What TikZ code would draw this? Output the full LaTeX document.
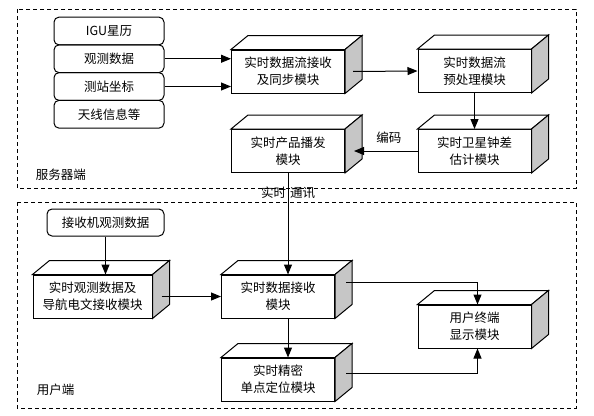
\documentclass[tikz,border=0pt]{standalone}
\usepackage{fontspec}
\setmainfont{Noto Sans CJK SC}
\usetikzlibrary{arrows.meta}
\begin{document}
\begin{tikzpicture}
    [
        source/.style={rectangle, rounded corners=5pt, draw, minimum width=110pt, minimum height=27.75pt, inner sep=0pt},
        module/.style={rectangle, draw, fill=white, minimum width=113pt, minimum height=43pt, align=center, inner sep=0pt},
        region/.style={draw, dash pattern=on 4pt off 3pt},
        >={Triangle[length=10pt,width=8pt]},
        x=1pt, y=-1pt,
        line width=1pt,
        font=\fontsize{12.5}{17}\selectfont,
    ]
    \useasboundingbox (0,0) rectangle (594,415);
    % server side
    \draw [region] (17,9) rectangle (576,188);
    \node (igu) at (109,31) [source] {IGU星历};
    \node (obs) at (109,58.75) [source] {观测数据};
    \node (sta) at (109,86.5) [source] {测站坐标};
    \node (ant) at (109,114.25) [source] {天线信息等};
    \node (m1) at (288,71.5) [module] {实时数据流接收\\及同步模块};
    \node (m2) at (474.5,71) [module] {实时数据流\\预处理模块};
    \node (m3) at (474.5,151) [module] {实时卫星钟差\\估计模块};
    \node (m4) at (288,151) [module] {实时产品播发\\模块};
    \node (server) at (32,175) [anchor=west] {服务器端};
    % user side
    \draw [region] (17,202) rectangle (576,408);
    \node (rcv) at (105.5,222.5) [source, minimum width=117pt, minimum height=27pt] {接收机观测数据};
    \node (m5) at (92.5,296.5) [module, minimum width=119pt] {实时观测数据及\\导航电文接收模块};
    \node (m6) at (278,296.5) [module] {实时数据接收\\模块};
    \node (m7) at (278,379.5) [module] {实时精密\\单点定位模块};
    \node (m8) at (474.5,326.5) [module] {用户终端\\显示模块};
    \node (user) at (33,390) [anchor=west] {用户端};
    % box depth
    \foreach \n in {m1,m2,m3,m4,m5,m6,m7,m8}
    {
        \draw [fill=white] (\n.north west) -- ++(17pt,14pt) -- ([shift={(17pt,14pt)}]\n.north east) -- (\n.north east) -- cycle;
        \draw [fill=gray!45] (\n.north east) -- ++(17pt,14pt) -- ([shift={(17pt,14pt)}]\n.south east) -- (\n.south east) -- cycle;
    }
    % connections
    \draw [->] (obs.east) -- (obs.east -| m1.west);
    \draw [->] (sta.east) -- (sta.east -| m1.west);
    \draw [->] ([xshift=8pt]m1.east) -- (m2.west);
    \draw [->] (m2.south) -- (m3.north);
    \draw [->] (m3.west) -- node [above=4pt, xshift=3pt] (code) {编码} ([xshift=9pt]m4.east);
    \node (comm) at (288,193) {实时\hspace{4pt}通讯};
    \draw [->] (m4.south) -- (m4.south |- m6.north);
    \draw [->] (rcv.south) -- (rcv.south |- m5.north);
    \draw [->] ([xshift=9pt]m5.east) -- (m6.west);
    \draw [->] (m4.south |- m6.south) -- (m4.south |- m7.north);
    \draw [->] ([shift={(11pt,14pt)}]m6.east) -| ([xshift=3pt]m8.north);
    \draw [->] ([shift={(11pt,6pt)}]m7.east) -| ([xshift=3pt]m8.south);
\end{tikzpicture}
\end{document}
